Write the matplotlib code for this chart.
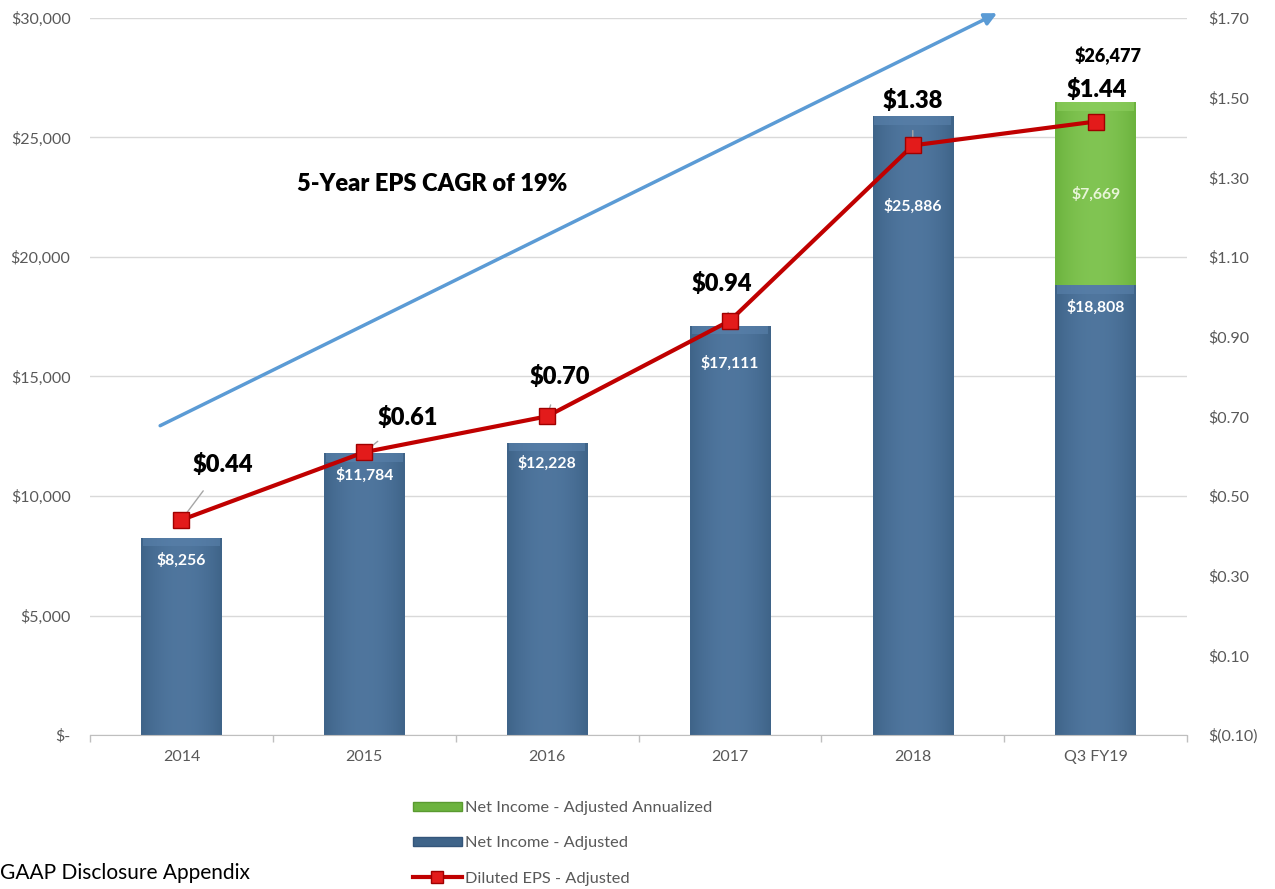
import numpy as np
import matplotlib.pyplot as plt
from matplotlib.patches import Patch
from matplotlib.lines import Line2D
from matplotlib.ticker import FuncFormatter

plt.rcParams['font.family'] = ['Lato', 'DejaVu Sans']

years = ['2014', '2015', '2016', '2017', '2018', 'Q3 FY19']
net_income = [8256, 11784, 12228, 17111, 25886, 18808]
annualized = [0, 0, 0, 0, 0, 7669]
eps = [0.44, 0.61, 0.70, 0.94, 1.38, 1.44]
eps_offsets = [(30, 40), (31, 25), (9, 29), (-6, 27), (0, 32), (1, 23)]
bar_label_drop = [16, 16, 15, 27, 65, 16]

blue = '#3f6489'
green = '#6cb33e'
red = '#c00000'
grey = '#595959'

fig = plt.figure(figsize=(12.75, 8.89), dpi=100)
ax = fig.add_axes([0.0706, 0.1732, 0.8604, 0.8066])
ax2 = ax.twinx()

x = np.arange(len(years))
width = 0.44

bars = ax.bar(x, net_income, width, color=blue, zorder=2)
tops = ax.bar(x, annualized, width, bottom=net_income, color=green, zorder=2)


def shade(patches, base, light):
    # soft horizontal sheen plus a lighter bevel along the top of each bar
    c0 = np.array(plt.matplotlib.colors.to_rgb(base))
    c1 = np.array(plt.matplotlib.colors.to_rgb(light))
    t = np.linspace(-1, 1, 60)
    w = 1 - np.abs(t) ** 2
    grad = c0[None, :] * (1 - w[:, None] * 0.6) + c1[None, :] * (w[:, None] * 0.6)
    img = np.tile(grad[None, :, :], (2, 1, 1))
    for p in patches:
        h = p.get_height()
        if h <= 0:
            continue
        x0, y0 = p.get_x(), p.get_y()
        im = ax.imshow(img, extent=[x0, x0 + p.get_width(), y0, y0 + h],
                       aspect='auto', zorder=2.1, interpolation='bilinear')
        im.set_clip_path(p)
        bev = min(350, h * 0.3)
        ax.add_patch(plt.Rectangle((x0 + 0.01, y0 + h - bev), p.get_width() - 0.02, bev,
                                   color=light, alpha=0.6, lw=0, zorder=2.2))


shade(bars, blue, '#5a82ac')
shade(tops, green, '#8fd060')

ax.set_xlim(-0.5, len(years) - 0.5)
ax.set_ylim(0, 30000)
ax.set_yticks(np.arange(0, 30001, 5000))
ax.yaxis.set_major_formatter(FuncFormatter(lambda v, p: '$-' if v == 0 else f'${v:,.0f}'))
ax.set_xticks(x)
ax.set_xticklabels(years)
ax.set_xticks(np.arange(-0.5, len(years), 1), minor=True)
ax.tick_params(axis='x', which='major', length=0, pad=11, labelsize=11.5, colors=grey)
ax.tick_params(axis='x', which='minor', length=5, color='#bfbfbf', width=1)
ax.tick_params(axis='y', length=0, pad=14, labelsize=11.5, colors=grey)
ax.grid(axis='y', color='#d9d9d9', lw=1, zorder=0)
ax.set_axisbelow(True)
for s in ['top', 'left', 'right']:
    ax.spines[s].set_visible(False)
    ax2.spines[s].set_visible(False)
ax.spines['bottom'].set_color('#bfbfbf')
ax2.spines['bottom'].set_visible(False)

for i, v in enumerate(net_income):
    ax.annotate(f'${v:,}', (x[i], v), xytext=(0, -bar_label_drop[i]), textcoords='offset points',
                ha='center', va='center', color='white', fontsize=11.3, fontweight='bold', zorder=5)
for i, v in enumerate(annualized):
    if v > 0:
        ax.text(x[i], net_income[i] + v / 2, f'${v:,}', ha='center', va='center',
                color='#e8f5d8', fontsize=11.3, fontweight='bold', zorder=5)
        total = net_income[i] + v
        ax.annotate(f'${total:,}', (x[i], total), xytext=(9, 33), textcoords='offset points',
                    ha='center', va='center', fontsize=13, fontweight='heavy', color='black')

ax2.set_ylim(-0.10, 1.70)
ax2.set_yticks(np.arange(-0.10, 1.71, 0.20))
ax2.yaxis.set_major_formatter(FuncFormatter(lambda v, p: f'$({abs(v):.2f})' if v < 0 else f'${v:.2f}'))
ax2.tick_params(axis='y', length=0, pad=15, labelsize=11.5, colors=grey)
ax2.plot(x, eps, color=red, lw=3, marker='s', markersize=11, markerfacecolor='#e31b1b',
         markeredgecolor='#a00000', zorder=4)
for i, v in enumerate(eps):
    ax2.annotate(f'${v:.2f}', (x[i], v), xytext=eps_offsets[i], textcoords='offset points',
                 ha='center', va='center', fontsize=17, fontweight='heavy', color='black',
                 arrowprops=dict(arrowstyle='-', color='#a6a6a6', lw=1, shrinkA=11, shrinkB=4))

# growth arrow
ax.annotate('', xy=(4.475, 30250), xytext=(-0.13, 12890),
            arrowprops=dict(arrowstyle='-|>', color='#5b9bd5', lw=2.5, mutation_scale=18),
            annotation_clip=False, zorder=1)
ax.text(1.37, 23050, '5-Year EPS CAGR of 19%', ha='center', va='center',
        fontsize=17, fontweight='heavy', color='black')

handles = [Patch(facecolor=green, edgecolor='#5a9a30'),
           Patch(facecolor=blue, edgecolor='#34557a'),
           Line2D([0], [0], color=red, lw=3, marker='s', markersize=9,
                  markerfacecolor='#e31b1b', markeredgecolor='#a00000')]
labels = ['Net Income - Adjusted Annualized', 'Net Income - Adjusted', 'Diluted EPS - Adjusted']
leg = fig.legend(handles, labels, loc='upper left', bbox_to_anchor=(0.312, 0.1155),
                 frameon=False, fontsize=11.8, labelspacing=1.3, handlelength=3.0,
                 handleheight=0.5, handletextpad=0.2)
for t in leg.get_texts():
    t.set_color(grey)

fig.text(0.0, 0.018, 'GAAP Disclosure Appendix', fontsize=15, color='black', ha='left', va='center')

fig.savefig('out.png', dpi=100)
